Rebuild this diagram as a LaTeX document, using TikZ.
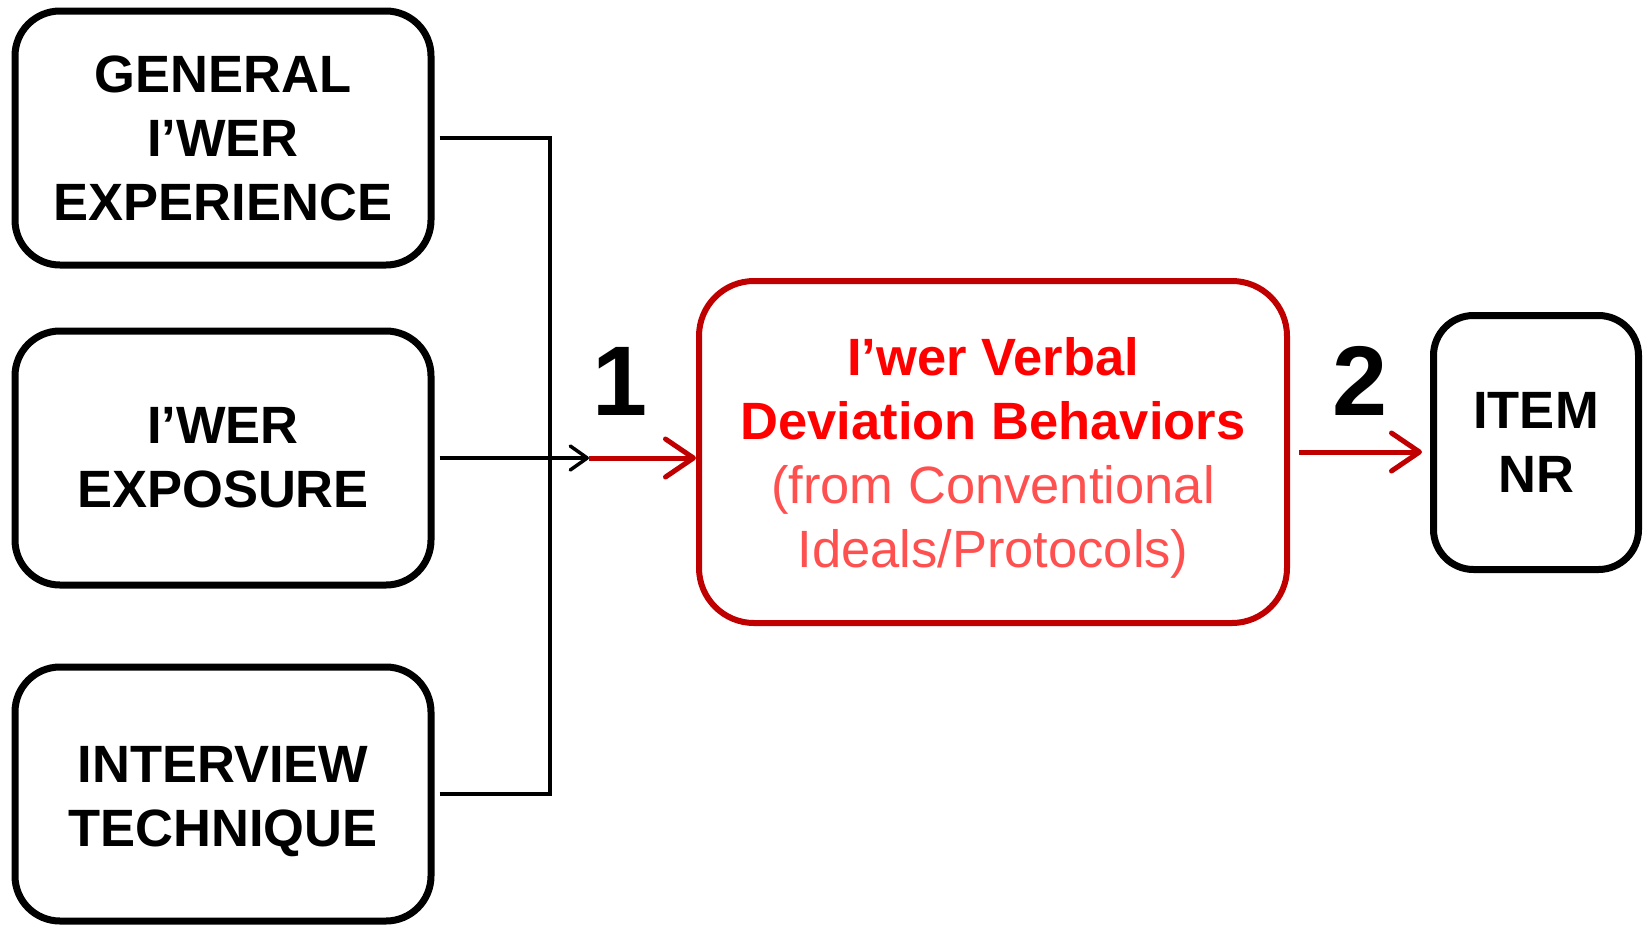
\documentclass[tikz,border=0pt]{standalone}
\usepackage{fontspec}
\setmainfont{Liberation Sans}
\usetikzlibrary{arrows.meta}
\definecolor{dred}{RGB}{192,0,0}
\definecolor{bred}{RGB}{255,0,0}
\definecolor{lred}{RGB}{255,80,80}
\begin{document}
\begin{tikzpicture}[x=1pt,y=-1pt,
  box/.style={draw=black, line width=7pt, rounded corners=45pt, align=center,
    font=\fontsize{52.5}{64}\selectfont\bfseries, inner sep=0pt,
    minimum width=416pt, minimum height=254pt},
  redbox/.style={draw=dred, line width=6pt, rounded corners=55pt, align=center,
    font=\fontsize{52.5}{64}\selectfont, inner sep=0pt,
    minimum width=588pt, minimum height=342pt},
  itembox/.style={draw=black, line width=7pt, rounded corners=40pt, align=center,
    font=\fontsize{52.5}{64}\selectfont\bfseries, inner sep=0pt,
    minimum width=205pt, minimum height=254pt},
  conn/.style={draw=black, line width=3.5pt},
  blkarrow/.style={draw=black, line width=3.5pt, -{Straight Barb[length=17pt,width=24pt,round]}},
  redarrow/.style={draw=dred, line width=5pt, -{Straight Barb[length=28pt,width=38pt,round]}},
  numlabel/.style={font=\fontsize{99}{110}\selectfont\bfseries, inner sep=0pt}
]
\useasboundingbox (0,0) rectangle (1644,924);

\node[box] (g) at (223,138) {GENERAL\\I’WER\\EXPERIENCE};
\node[box] (e) at (223,458) {I’WER\\EXPOSURE};
\node[box] (t) at (223,794) {\rule{0pt}{52pt}INTERVIEW\\TECHNIQUE};

\node[redbox] (d) at (993,452) {\rule{0pt}{49pt}\textcolor{bred}{\bfseries I’wer Verbal}\\
  \textcolor{bred}{\bfseries Deviation Behaviors}\\
  \textcolor{lred}{(from Conventional}\\
  \textcolor{lred}{Ideals/Protocols)}};

\node[itembox] (i) at (1536,442.5) {ITEM\\NR};

\coordinate (j) at (550,458);
\coordinate (m) at (589,458);

\draw[conn] ([xshift=5pt]g.east) -| (j);
\draw[conn] ([xshift=5pt]t.east) -| (j);
\draw[blkarrow] ([xshift=5pt]e.east) -- (m);
\draw[redarrow] (m) -- (d.west |- m);
\draw[redarrow] ([xshift=9pt]d.east) -- ([xshift=-8pt]i.west |- d.east);

\node[numlabel] (n1) at (620,381) {1};
\node[numlabel] (n2) at (1360,381) {2};
\end{tikzpicture}
\end{document}
